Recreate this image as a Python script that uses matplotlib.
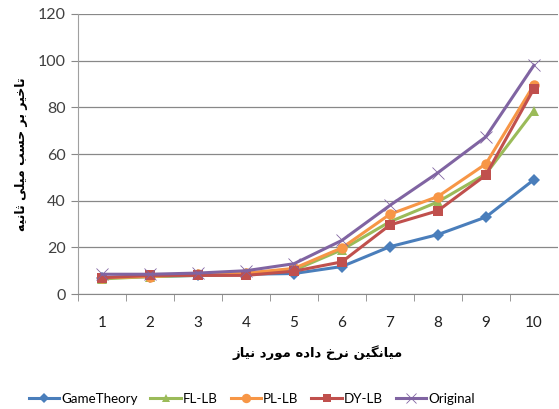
import matplotlib
matplotlib.use("Agg")
import matplotlib.pyplot as plt

# data rates 1..10 and the delay (ms) of each method
rates = [1, 2, 3, 4, 5, 6, 7, 8, 9, 10]
game_theory = [7, 7.5, 8, 8.5, 8.8, 11.8, 20.3, 25.5, 33, 49]
fl_lb = [6.5, 7.5, 8, 8.5, 10.2, 19, 31, 39.5, 51.5, 78.5]
pl_lb = [7, 7.5, 8.5, 9, 11, 19.8, 34.2, 41.8, 55.8, 89.6]
dy_lb = [7, 8, 8, 8, 9.8, 13.8, 29.6, 35.7, 51, 88]
original = [8.5, 8.5, 9, 10, 13, 23, 38, 52, 67.4, 98]

series_names = ["GameTheory", "FL-LB", "PL-LB", "DY-LB", "Original"]
xlabel_text = "میانگین نرخ داده مورد نیاز"
ylabel_text = "تاخیر بر حسب میلی ثانیه"

# presentation forms: isolated, final, initial, medial
FORMS = {
    "\u0627": ("\uFE8D", "\uFE8E", None, None),
    "\u0628": ("\uFE8F", "\uFE90", "\uFE91", "\uFE92"),
    "\u062A": ("\uFE95", "\uFE96", "\uFE97", "\uFE98"),
    "\u062B": ("\uFE99", "\uFE9A", "\uFE9B", "\uFE9C"),
    "\u062D": ("\uFEA1", "\uFEA2", "\uFEA3", "\uFEA4"),
    "\u062E": ("\uFEA5", "\uFEA6", "\uFEA7", "\uFEA8"),
    "\u062F": ("\uFEA9", "\uFEAA", None, None),
    "\u0631": ("\uFEAD", "\uFEAE", None, None),
    "\u0632": ("\uFEAF", "\uFEB0", None, None),
    "\u0633": ("\uFEB1", "\uFEB2", "\uFEB3", "\uFEB4"),
    "\u0644": ("\uFEDD", "\uFEDE", "\uFEDF", "\uFEE0"),
    "\u0645": ("\uFEE1", "\uFEE2", "\uFEE3", "\uFEE4"),
    "\u0646": ("\uFEE5", "\uFEE6", "\uFEE7", "\uFEE8"),
    "\u0647": ("\uFEE9", "\uFEEA", "\uFEEB", "\uFEEC"),
    "\u0648": ("\uFEED", "\uFEEE", None, None),
    "\u06CC": ("\uFBFC", "\uFBFD", "\uFBFE", "\uFBFF"),
    "\u06AF": ("\uFB92", "\uFB93", "\uFB94", "\uFB95"),
}


def shape_rtl(text):
    # join letters by hand and reverse, since matplotlib has no RTL shaping
    out = []
    for i, ch in enumerate(text):
        if ch not in FORMS:
            out.append(ch)
            continue
        prev = text[i - 1] if i > 0 else ""
        nxt = text[i + 1] if i + 1 < len(text) else ""
        join_prev = prev in FORMS and FORMS[prev][2] is not None
        join_next = nxt in FORMS and FORMS[ch][2] is not None
        iso, fin, ini, med = FORMS[ch]
        if join_prev and join_next:
            out.append(med)
        elif join_prev:
            out.append(fin)
        elif join_next:
            out.append(ini)
        else:
            out.append(iso)
    return "".join(out)[::-1]


plt.rcParams["font.family"] = ["Lato", "DejaVu Sans"]

fig = plt.figure(figsize=(5.59, 4.09), dpi=100)
ax = fig.add_axes([0.1395, 0.281, 0.8585, 0.6848])

styles = [
    ("#4A7EBB", "D", 6),
    ("#9BBB59", "^", 7),
    ("#F79646", "o", 7.5),
    ("#C0504D", "s", 7),
    ("#8064A2", "x", 8),
]
for name, vals, (col, mk, ms) in zip(series_names, [game_theory, fl_lb, pl_lb, dy_lb, original], styles):
    ax.plot(rates, vals, color=col, lw=2.2, marker=mk, markersize=ms,
            markeredgewidth=0.6 if mk == "x" else 0, markeredgecolor=col, label=name)

ax.set_xlim(0.5, 10.5)
ax.set_ylim(0, 120)
ax.set_yticks(range(0, 121, 20))
ax.set_xticks(rates)
ax.set_xticks([r + 0.5 for r in rates[:-1]] + [0.5], minor=True)
ax.grid(axis="y", color="#888888", lw=0.9)
ax.set_axisbelow(True)
for s in ["top", "right"]:
    ax.spines[s].set_visible(False)
ax.spines["left"].set_color("#A0A0A0")
ax.spines["bottom"].set_color("#888888")
ax.tick_params(axis="y", length=5, color="#888888", labelsize=11.5, labelcolor="#404040", pad=4)
ax.tick_params(axis="x", which="major", length=0, labelsize=11, labelcolor="#202020", pad=16)
ax.tick_params(axis="x", which="minor", length=5, color="#888888")

ax.set_xlabel(shape_rtl(xlabel_text), fontsize=9.5, fontweight="bold", labelpad=11,
              family="DejaVu Sans")
ax.set_ylabel(shape_rtl(ylabel_text), fontsize=9, fontweight="bold", labelpad=7,
              family="DejaVu Sans")

ax.legend(loc="center", bbox_to_anchor=(0.362, -0.375), ncol=5, frameon=False,
          fontsize=9.6, handlelength=2.3, columnspacing=0.95, handletextpad=0.15,
          markerscale=0.9)

fig.savefig("out.png", dpi=100)
